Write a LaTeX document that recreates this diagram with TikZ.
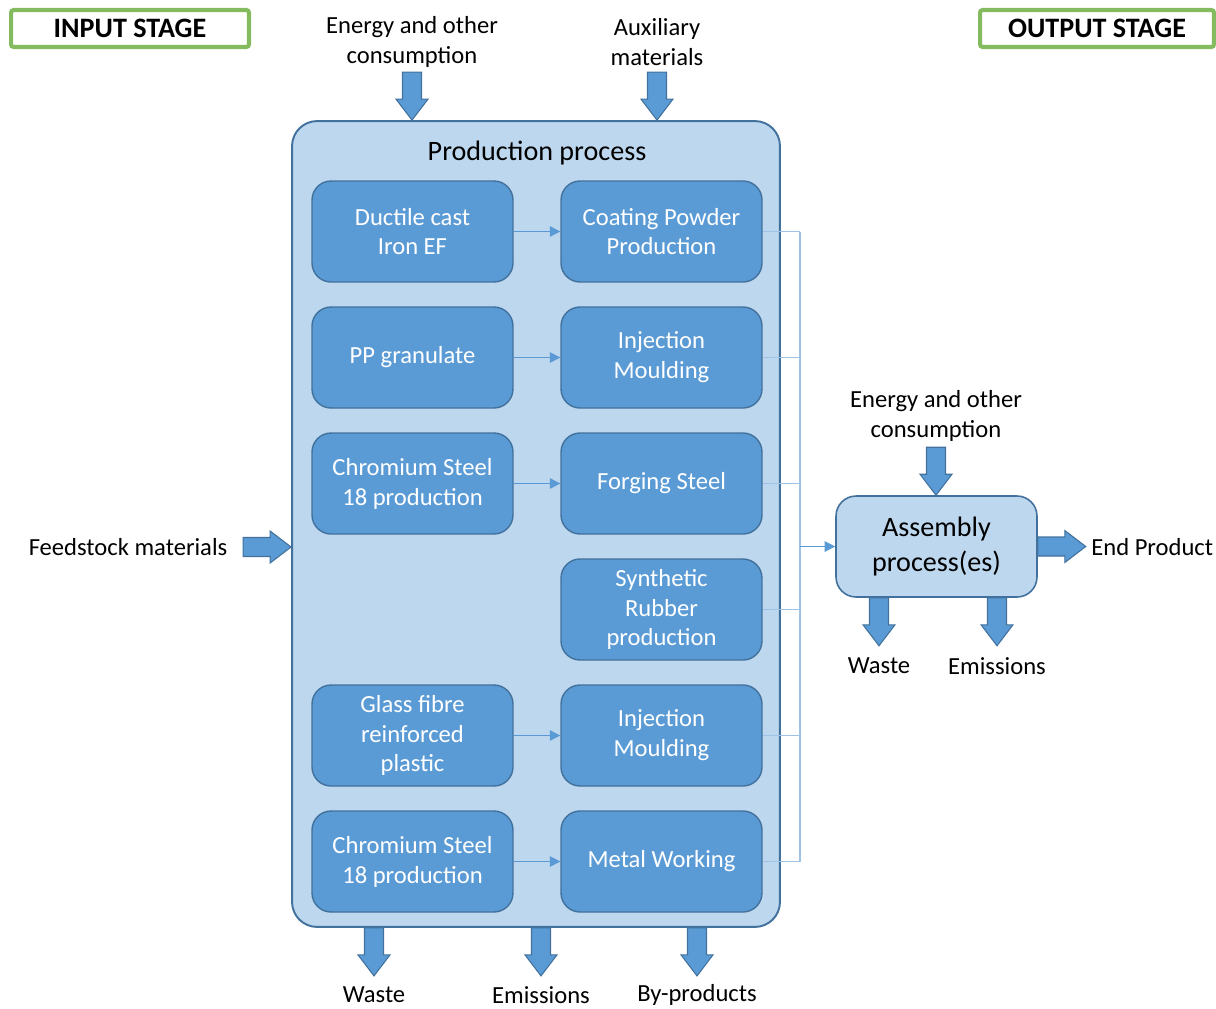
\documentclass[tikz,border=0pt]{standalone}
\usepackage{fontspec}
\setmainfont{Carlito}
\usetikzlibrary{positioning,arrows.meta}
\definecolor{procfill}{RGB}{189,215,238}
\definecolor{stepfill}{RGB}{91,155,213}
\definecolor{rim}{RGB}{65,113,156}
\definecolor{buscol}{RGB}{157,195,230}
\definecolor{stagegreen}{RGB}{131,187,94}
\tikzstyle{proc} = [rectangle, rounded corners=0.5cm, draw=rim, line width=1.1pt, fill=procfill]
\tikzstyle{sub} = [rectangle, rounded corners=0.38cm, draw=rim, line width=0.8pt, fill=stepfill, text=white, align=center, minimum width=4.02cm, minimum height=2.02cm, inner sep=0pt, font=\fontsize{14}{17}\selectfont]
\tikzstyle{stage} = [rectangle, rounded corners=1.5pt, draw=stagegreen, line width=2.3pt, fill=white, minimum height=0.74cm, inner sep=0pt, font=\bfseries\fontsize{16}{19}\selectfont]
\tikzstyle{lbl} = [align=center, inner sep=0pt, font=\fontsize{14}{17}\selectfont]
\tikzstyle{line} = [draw=stepfill, line width=0.6pt, -{Triangle[length=6pt,width=6pt]}]
\tikzstyle{bus} = [draw=buscol, line width=0.7pt]
\tikzstyle{blockarrow} = [draw=rim, line width=0.6pt, fill=stepfill]
\tikzset{
  arrowin/.pic={\path[blockarrow] (-48,-9.5) -- (-21,-9.5) -- (-21,-16) -- (0,0) -- (-21,16) -- (-21,9.5) -- (-48,9.5) -- cycle;},
  arrowout/.pic={\path[blockarrow] (0,-9.5) -- (27,-9.5) -- (27,-16) -- (48,0) -- (27,16) -- (27,9.5) -- (0,9.5) -- cycle;}
}

\begin{document}
\begin{tikzpicture}[x=0.02cm, y=-0.02cm]
        \useasboundingbox (0,0) rectangle (1216,1008);
        % Place nodes
        \node at (130,28.5) [stage, minimum width=4.76cm] (inst) {INPUT STAGE};
        \node at (1097,28.5) [stage, minimum width=4.68cm] (outst) {OUTPUT STAGE};
        \node at (536,524) [proc, minimum width=9.76cm, minimum height=16.12cm] (prod) {};
        \node at (537,153) [lbl, font=\fontsize{16}{19}\selectfont] (title) {Production process};
        \node at (412.5,231.5) [sub] (l1) {Ductile cast\\Iron EF};
        \node at (412.5,357.5) [sub] (l2) {PP granulate};
        \node at (412.5,483.5) [sub] (l3) {Chromium Steel\\18 production};
        \node at (412.5,735.5) [sub] (l5) {Glass fibre\\reinforced\\plastic};
        \node at (412.5,861.5) [sub] (l6) {Chromium Steel\\18 production};
        \node at (661.5,231.5) [sub] (r1) {Coating Powder\\Production};
        \node at (661.5,357.5) [sub] (r2) {Injection\\Moulding};
        \node at (661.5,483.5) [sub] (r3) {Forging Steel};
        \node at (661.5,609.5) [sub] (r4) {Synthetic\\Rubber\\production};
        \node at (661.5,735.5) [sub] (r5) {Injection\\Moulding};
        \node at (661.5,861.5) [sub] (r6) {Metal Working};
        \node at (936.5,546.5) [proc, rounded corners=0.4cm, line width=0.9pt, minimum width=4.02cm, minimum height=2.02cm, align=center, inner sep=0pt, font=\fontsize{16}{19.5}\selectfont] (asm) {Assembly\\process(es)};
        \node at (412,42) [lbl] (ein) {Energy and other\\consumption};
        \node at (657,42) [lbl] (aux) {Auxiliary\\materials};
        \node at (128,547) [lbl] (feed) {Feedstock materials};
        \node at (374,995) [lbl] (waste) {Waste};
        \node at (541,995) [lbl] (emis) {Emissions};
        \node at (697,995) [lbl] (byprod) {By-products};
        \node at (936,416) [lbl] (ein2) {Energy and other\\consumption};
        \node at (879,666) [lbl] (waste2) {Waste};
        \node at (997,666) [lbl] (emis2) {Emissions};
        \node at (1091,547) [lbl, anchor=west] (endp) {End Product};
        \coordinate (bt) at (800,231.5);
        \coordinate (bb) at (800,861.5);

        % Draw edges
        \path [line] (l1) -- (r1);
        \path [line] (l2) -- (r2);
        \path [line] (l3) -- (r3);
        \path [line] (l5) -- (r5);
        \path [line] (l6) -- (r6);
        \path [bus] (bt) -- (bb);
        \foreach \i in {1,...,6}
            \path [bus] (r\i.east) -- (r\i.east -| bt);
        \path [line] (asm.west -| bt) -- (asm.west);

        % Block arrows
        \pic [rotate=-90] at (prod.north -| ein) {arrowin};
        \pic [rotate=-90] at (prod.north -| aux) {arrowin};
        \pic at (prod.west |- feed) {arrowin};
        \pic [rotate=-90] at (prod.south -| waste) {arrowout};
        \pic [rotate=-90] at (prod.south -| emis) {arrowout};
        \pic [rotate=-90] at (prod.south -| byprod) {arrowout};
        \pic [rotate=-90] at (asm.north -| ein2) {arrowin};
        \pic [rotate=-90] at (asm.south -| waste2) {arrowout};
        \pic [rotate=-90] at (asm.south -| emis2) {arrowout};
        \pic at (asm.east) {arrowout};
    \end{tikzpicture}
\end{document}
